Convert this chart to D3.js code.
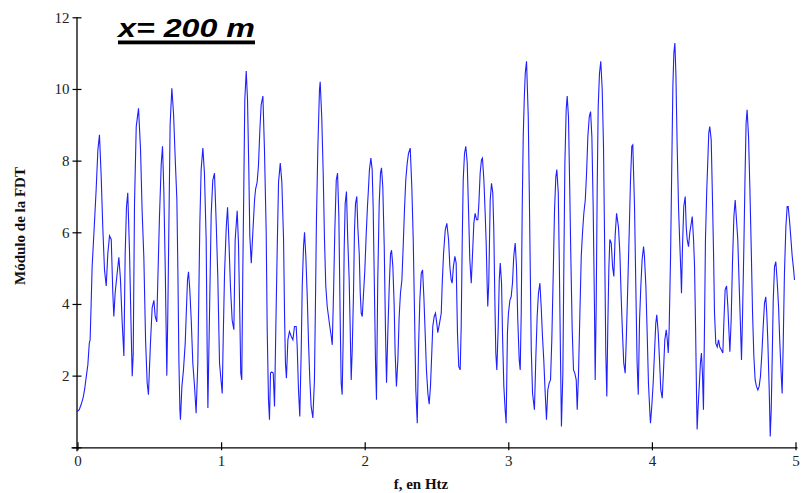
<!DOCTYPE html>
<html>
<head>
<meta charset="utf-8">
<script src="https://cdn.jsdelivr.net/npm/d3@7/dist/d3.min.js"></script>
<style>
  html, body { margin: 0; padding: 0; background: #ffffff; }
  svg { display: block; }
</style>
</head>
<body>
<div id="chart"></div>
<script>
// ---- data ----
const titleText = "x= 200 m";
const xLabel = "f, en Htz";
const yLabel = "Módulo de la FDT";
const xTicks = [0, 1, 2, 3, 4, 5];
const yTicks = [0, 2, 4, 6, 8, 10, 12];

const freqHz = [
0.000,0.012,0.026,0.040,0.049,0.062,0.072,0.082,0.088,0.095,0.102,0.118,0.130,0.142,0.153,0.165,0.176,0.188,0.200,0.211,
0.223,0.235,0.246,0.253,0.262,0.276,0.288,0.299,0.311,0.323,0.332,0.341,0.350,0.362,0.374,0.381,0.388,0.397,0.409,0.425,
0.439,0.450,0.462,0.474,0.485,0.494,0.508,0.520,0.532,0.541,0.552,0.559,0.571,0.583,0.592,0.601,0.611,0.622,0.629,0.638,
0.645,0.657,0.669,0.680,0.692,0.699,0.706,0.713,0.717,0.727,0.738,0.750,0.759,0.766,0.773,0.782,0.792,0.803,0.815,0.826,
0.838,0.845,0.852,0.861,0.873,0.884,0.896,0.903,0.908,0.919,0.931,0.942,0.954,0.966,0.977,0.989,1.001,1.008,1.015,1.024,
1.036,1.045,1.054,1.065,1.077,1.089,1.098,1.112,1.121,1.130,1.137,1.144,1.151,1.158,1.165,1.175,1.184,1.193,1.200,1.210,
1.221,1.233,1.240,1.251,1.260,1.270,1.279,1.291,1.302,1.314,1.321,1.330,1.337,1.344,1.353,1.363,1.372,1.381,1.391,1.400,
1.412,1.423,1.435,1.442,1.448,1.455,1.465,1.476,1.488,1.500,1.511,1.523,1.530,1.539,1.548,1.558,1.565,1.574,1.581,1.590,
1.600,1.609,1.618,1.627,1.639,1.650,1.657,1.664,1.674,1.685,1.690,1.701,1.711,1.720,1.729,1.739,1.748,1.757,1.767,1.774,
1.783,1.792,1.802,1.811,1.820,1.829,1.836,1.843,1.850,1.857,1.864,1.873,1.882,1.892,1.899,1.906,1.913,1.922,1.929,1.936,
1.945,1.952,1.962,1.969,1.976,1.983,1.992,2.001,2.010,2.019,2.026,2.033,2.043,2.052,2.059,2.066,2.075,2.082,2.091,2.101,
2.110,2.117,2.126,2.136,2.145,2.152,2.161,2.171,2.180,2.187,2.196,2.205,2.212,2.221,2.231,2.240,2.249,2.259,2.268,2.277,
2.286,2.296,2.305,2.317,2.328,2.338,2.347,2.356,2.366,2.375,2.384,2.394,2.403,2.412,2.421,2.430,2.440,2.449,2.458,2.468,
2.474,2.484,2.493,2.502,2.509,2.521,2.533,2.540,2.549,2.561,2.572,2.584,2.593,2.602,2.609,2.618,2.628,2.637,2.646,2.655,
2.665,2.672,2.679,2.686,2.695,2.704,2.714,2.723,2.732,2.742,2.751,2.760,2.769,2.779,2.788,2.795,2.804,2.813,2.820,2.830,
2.839,2.846,2.853,2.857,2.864,2.874,2.883,2.892,2.899,2.906,2.913,2.920,2.930,2.937,2.944,2.953,2.960,2.969,2.978,2.985,
2.994,3.001,3.011,3.020,3.029,3.038,3.048,3.057,3.066,3.076,3.083,3.090,3.097,3.104,3.111,3.118,3.127,3.139,3.146,3.153,
3.160,3.169,3.182,3.192,3.201,3.210,3.220,3.229,3.238,3.247,3.257,3.266,3.275,3.285,3.294,3.303,3.313,3.322,3.331,3.338,
3.348,3.355,3.364,3.370,3.380,3.387,3.394,3.403,3.410,3.419,3.428,3.435,3.445,3.454,3.463,3.473,3.480,3.489,3.498,3.508,
3.517,3.526,3.536,3.545,3.554,3.564,3.573,3.582,3.591,3.600,3.605,3.612,3.619,3.626,3.635,3.644,3.654,3.663,3.672,3.679,
3.686,3.693,3.700,3.707,3.717,3.726,3.735,3.744,3.754,3.767,3.777,3.786,3.795,3.804,3.814,3.823,3.832,3.842,3.851,3.860,
3.867,3.879,3.888,3.897,3.905,3.914,3.923,3.932,3.942,3.948,3.958,3.967,3.976,3.986,3.990,3.999,4.009,4.018,4.027,4.034,
4.044,4.053,4.062,4.072,4.081,4.090,4.100,4.107,4.114,4.120,4.130,4.139,4.146,4.153,4.160,4.167,4.176,4.186,4.195,4.202,
4.206,4.213,4.222,4.232,4.239,4.246,4.255,4.264,4.274,4.281,4.290,4.297,4.304,4.311,4.315,4.322,4.331,4.338,4.345,4.352,
4.359,4.366,4.373,4.382,4.392,4.396,4.403,4.413,4.420,4.429,4.436,4.445,4.455,4.464,4.473,4.483,4.494,4.501,4.510,4.520,
4.529,4.536,4.543,4.552,4.561,4.571,4.580,4.589,4.598,4.608,4.617,4.624,4.631,4.640,4.649,4.656,4.663,4.673,4.682,4.692,
4.701,4.710,4.719,4.728,4.738,4.747,4.756,4.766,4.775,4.784,4.793,4.800,4.807,4.817,4.824,4.831,4.838,4.845,4.854,4.863,
4.872,4.882,4.891,4.901,4.907,4.914,4.923,4.933,4.942,4.949,4.958,4.967,4.977,4.987,4.993
];

const fdtModulus = [
1.00,1.05,1.20,1.40,1.60,2.00,2.30,2.90,3.00,4.00,5.05,6.25,7.20,8.30,8.72,7.55,6.15,4.95,4.50,5.40,
5.90,5.80,4.30,3.65,4.30,4.85,5.30,4.70,3.50,2.55,5.40,6.70,7.10,5.50,3.20,1.98,2.60,6.80,8.95,9.46,
8.30,6.60,5.30,3.00,1.80,1.47,2.90,3.90,4.10,3.65,3.50,4.60,6.45,7.90,8.40,7.20,5.00,2.00,3.75,6.70,
9.00,10.02,9.30,8.10,6.90,4.95,2.44,1.05,0.77,1.70,2.16,2.90,3.90,4.67,4.90,4.40,3.55,2.35,1.70,0.95,
2.35,4.30,6.25,7.75,8.35,7.65,5.80,2.70,1.10,3.65,6.50,7.45,7.65,6.25,4.77,2.35,1.80,1.50,3.10,4.86,
6.15,6.70,5.80,4.50,3.55,3.28,5.80,6.60,5.70,3.75,2.07,1.88,4.86,7.20,9.70,10.50,9.70,7.75,5.90,5.14,
6.00,6.90,7.20,7.40,7.85,8.86,9.56,9.80,8.30,6.00,3.30,1.33,0.77,2.07,2.10,2.07,1.14,3.30,5.60,7.40,
7.93,7.40,5.80,3.65,2.35,1.93,3.00,3.23,3.10,3.00,3.37,3.37,2.80,1.60,0.86,2.72,4.50,5.60,6.00,5.33,
4.20,2.90,1.88,1.14,0.82,1.88,4.00,6.35,8.40,9.98,10.20,9.20,7.65,5.80,4.50,3.93,3.65,3.37,3.10,2.86,
4.30,6.07,7.46,7.65,6.45,3.65,1.80,1.47,3.00,5.50,6.80,7.14,5.80,4.67,3.30,1.88,2.70,4.30,6.07,6.80,
7.00,6.15,5.40,4.30,3.74,3.65,4.30,4.95,5.90,6.70,7.20,7.75,8.07,7.75,6.70,4.86,2.44,1.33,4.67,6.80,
7.65,7.80,7.27,5.60,3.20,1.80,3.20,4.50,5.40,5.50,5.05,4.00,2.63,1.70,2.44,3.65,4.30,4.67,5.60,6.63,
7.46,7.93,8.20,8.35,7.27,5.80,3.74,1.60,0.67,2.80,4.10,4.86,4.95,4.20,3.20,2.16,1.50,1.20,1.70,2.72,
3.37,3.65,3.74,3.46,3.20,3.46,3.74,4.58,5.40,6.07,6.25,5.80,5.05,4.67,4.58,5.05,5.33,5.14,3.20,2.25,
2.16,3.37,5.70,7.46,8.20,8.40,7.93,6.63,5.24,4.58,5.40,6.25,6.53,6.35,6.35,6.80,7.65,8.02,8.07,7.46,
6.53,5.70,4.50,3.93,4.58,6.90,7.37,7.10,6.07,4.20,2.63,2.16,3.37,4.67,5.14,4.58,3.10,1.70,1.05,0.67,
3.20,3.74,4.10,4.20,4.58,5.33,5.70,5.05,3.55,2.44,2.16,3.74,6.70,8.67,9.70,10.44,10.77,9.23,7.18,4.95,
2.72,1.50,1.05,2.54,3.65,4.30,4.58,3.93,3.10,2.44,1.50,0.77,1.60,1.80,1.88,3.00,4.86,6.63,7.55,7.75,
7.10,5.24,2.35,0.58,2.07,5.14,7.93,9.42,9.80,9.23,7.18,5.42,3.28,2.16,2.07,1.88,1.05,2.07,3.65,5.33,
6.00,6.53,6.90,7.65,8.67,9.23,9.37,8.67,6.72,3.93,1.88,3.93,7.18,9.50,10.44,10.77,9.98,8.40,5.24,2.63,
1.42,3.37,4.95,5.80,5.70,5.05,4.77,5.90,6.53,6.15,5.42,4.20,3.20,2.35,2.07,3.20,4.50,6.00,7.46,8.40,
8.44,6.72,4.50,2.35,1.47,3.55,4.50,5.24,5.60,5.33,4.50,3.20,1.80,0.95,0.67,1.14,1.80,2.63,3.46,3.70,
3.20,2.44,1.60,1.37,2.16,3.00,3.28,3.00,2.63,3.28,5.33,8.02,10.07,11.00,11.28,10.44,8.40,6.63,5.60,4.86,
4.30,5.60,6.72,7.00,6.15,5.79,5.60,6.00,6.25,6.44,5.80,5.05,3.37,1.42,0.50,1.14,1.80,2.35,2.63,2.07,
1.05,3.28,5.80,7.18,8.30,8.77,8.95,8.58,7.28,5.50,3.74,2.90,2.80,3.00,2.80,2.72,2.63,3.46,4.40,4.50,
3.93,3.28,2.67,3.55,5.14,6.44,6.90,6.35,5.80,4.50,3.37,2.44,3.65,5.50,7.65,9.05,9.42,8.67,7.28,5.50,
3.74,2.54,1.88,1.70,1.60,1.70,1.98,2.63,3.37,4.02,4.20,3.74,3.00,1.60,0.30,1.05,2.54,4.11,5.04,5.18,
4.67,3.93,2.90,1.98,1.50,2.80,4.86,6.15,6.72,6.72,6.35,5.88,5.33,4.95,4.67
];

// ---- layout ----
const W = 801, H = 493;
const x = d3.scaleLinear().domain([0, 5]).range([77.5, 795.5]);
const y = d3.scaleLinear().domain([0, 12]).range([447.3, 17.3]);

const svg = d3.select("#chart").append("svg")
  .attr("width", W).attr("height", H)
  .attr("viewBox", `0 0 ${W} ${H}`);

const tickFont = "'Liberation Serif', 'DejaVu Serif', serif";

// data line
const points = freqHz.map((f, i) => [f, fdtModulus[i]]);
svg.append("path")
  .datum(points)
  .attr("fill", "none")
  .attr("stroke", "#1f1fff")
  .attr("stroke-width", 1.1)
  .attr("stroke-linejoin", "miter")
  .attr("d", d3.line().x(d => x(d[0])).y(d => y(d[1])));

// x axis
const xAxis = svg.append("g")
  .attr("transform", `translate(0,${y(0)})`)
  .call(d3.axisBottom(x).tickValues(xTicks).tickFormat(d3.format("d")).tickSizeOuter(0).tickSize(0));
xAxis.select(".domain")
  .attr("d", `M${x(0) - 6},0.5H${x(5) + 2}`)
  .attr("stroke", "#000").attr("stroke-width", 1.3);
xAxis.selectAll(".tick line").attr("y1", -5).attr("y2", 3).attr("stroke", "#000").attr("stroke-width", 1.2);
xAxis.selectAll(".tick text")
  .attr("y", 8).attr("dy", "0.71em")
  .attr("font-family", tickFont).attr("font-size", 15).attr("fill", "#222");

// y axis
const yAxis = svg.append("g")
  .attr("transform", `translate(${x(0)},0)`)
  .call(d3.axisLeft(y).tickValues(yTicks).tickFormat(d3.format("d")).tickSizeOuter(0).tickSize(0));
yAxis.select(".domain")
  .attr("d", `M-0.5,${y(12)}V${y(0) + 4}`)
  .attr("stroke", "#000").attr("stroke-width", 1.3);
yAxis.selectAll(".tick line").attr("x1", -5).attr("x2", 4).attr("stroke", "#000").attr("stroke-width", 1.2);
yAxis.selectAll(".tick text")
  .attr("x", -8).attr("dy", "0.32em")
  .attr("font-family", tickFont).attr("font-size", 15).attr("fill", "#222");
yAxis.selectAll(".tick").filter(d => d === 0).select("text").remove();

// axis titles
svg.append("text")
  .attr("x", 421).attr("y", 489)
  .attr("text-anchor", "middle")
  .attr("font-family", tickFont).attr("font-weight", "bold").attr("font-size", 15)
  .attr("fill", "#111")
  .text(xLabel);

svg.append("text")
  .attr("transform", "translate(25,226) rotate(-90)")
  .attr("text-anchor", "middle")
  .attr("font-family", tickFont).attr("font-weight", "bold").attr("font-size", 15)
  .attr("fill", "#111")
  .text(yLabel);

// title
svg.append("text")
  .attr("x", 118).attr("y", 37)
  .attr("font-family", "'Liberation Sans', Arial, sans-serif")
  .attr("font-weight", "bold").attr("font-style", "italic").attr("font-size", 25)
  .attr("textLength", 137).attr("lengthAdjust", "spacingAndGlyphs")
  .attr("fill", "#000")
  .text(titleText);
svg.append("rect")
  .attr("x", 118).attr("y", 40.5).attr("width", 137).attr("height", 3.8)
  .attr("fill", "#000");
</script>
</body>
</html>
